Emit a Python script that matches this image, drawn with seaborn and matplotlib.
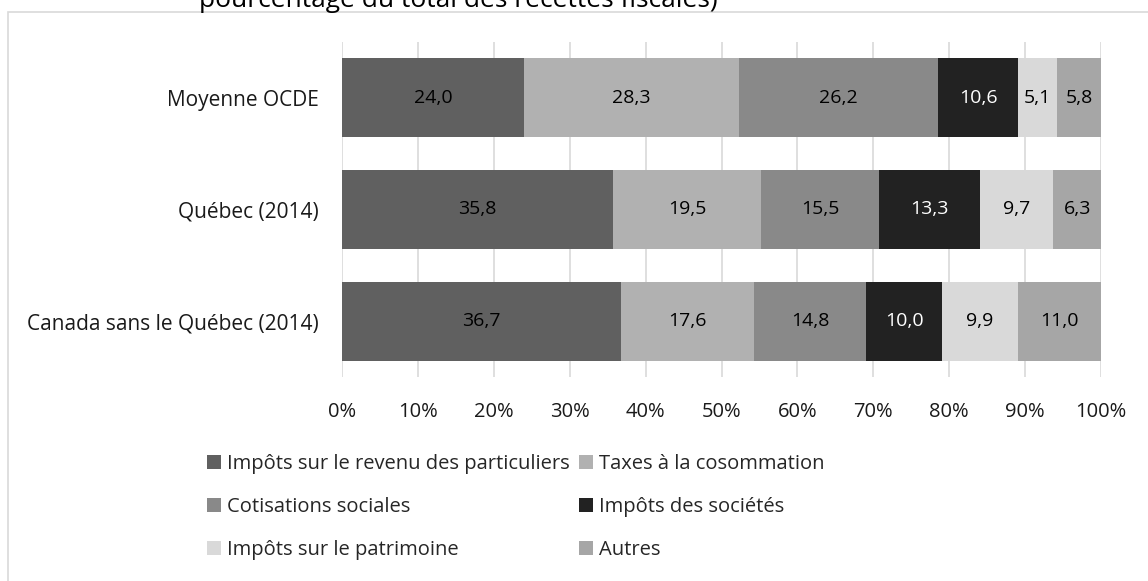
import matplotlib
matplotlib.use("Agg")
import matplotlib.pyplot as plt
import seaborn as sns
import pandas as pd
import numpy as np
from matplotlib.patches import Rectangle, Patch
from matplotlib.ticker import FuncFormatter

categories = ["Moyenne OCDE", "Québec (2014)", "Canada sans le Québec (2014)"]
series = ["Impôts sur le revenu des particuliers", "Taxes à la cosommation",
          "Cotisations sociales", "Impôts des sociétés",
          "Impôts sur le patrimoine", "Autres"]
revenu = [24.0, 35.8, 36.7]
consommation = [28.3, 19.5, 17.6]
cotisations = [26.2, 15.5, 14.8]
societes = [10.6, 13.3, 10.0]
patrimoine = [5.1, 9.7, 9.9]
autres = [5.8, 6.3, 11.0]
colors = ["#606060", "#b1b1b1", "#898989", "#222222", "#d9d9d9", "#a6a6a6"]
label_colors = ["black", "black", "black", "white", "black", "black"]

values = [revenu, consommation, cotisations, societes, patrimoine, autres]
sns.set_theme(style="white")
plt.rcParams['font.family'] = ['Open Sans', 'DejaVu Sans']

fig = plt.figure(figsize=(11.48, 5.81), dpi=100)
ax = fig.add_axes([342/1148, 1-377/581, (1101-342)/1148, (377-42)/581])

arr = np.array(values)
totals = arr.sum(axis=0)
pct = arr / totals * 100
cum = np.cumsum(pct, axis=0)

for i in range(len(series)-1, -1, -1):
    df = pd.DataFrame({"cat": categories, "val": cum[i]})
    sns.barplot(data=df, x="val", y="cat", orient="h", color=colors[i],
                width=0.71, ax=ax, saturation=1, zorder=2, linewidth=0)

for i in range(len(series)):
    for j in range(len(categories)):
        mid = cum[i][j] - pct[i][j]/2
        ax.text(mid, j, f"{values[i][j]:.1f}".replace(".", ","), ha="center", va="center",
                fontsize=14, color=label_colors[i], zorder=3)

ax.set_xlim(0, 100)
ax.set_ylim(2.5, -0.5)
ax.set_xticks(np.arange(0, 101, 10))
ax.xaxis.set_major_formatter(FuncFormatter(lambda v, p: f"{int(v)}%"))
ax.grid(axis="x", color="#d9d9d9", linewidth=1.2, zorder=0)
ax.set_axisbelow(True)
for s in ax.spines.values():
    s.set_visible(False)
ax.set_xlabel("")
ax.set_ylabel("")
ax.tick_params(axis="both", length=0, labelsize=14.5, colors="#1a1a1a")
ax.tick_params(axis="x", pad=18)
ax.tick_params(axis="y", pad=17)
for t in ax.get_yticklabels():
    t.set_fontsize(15)

# frame
fig.patches.append(Rectangle((8/1148, -0.01), 1.02, 1-12/581+0.01, transform=fig.transFigure,
                             fill=False, edgecolor="#d9d9d9", linewidth=1.2))
fig.text(199/1148, 1-7/581, "pourcentage du total des recettes fiscales)", fontsize=19,
         ha="left", va="baseline", color="black")

handles = [Patch(facecolor=c, edgecolor="none") for c in colors]
order = [0, 2, 4, 1, 3, 5]
fig.legend([handles[k] for k in order], [series[k] for k in order], loc="center left",
           bbox_to_anchor=(207/1148, 1-507/581), ncol=2, frameon=False,
           fontsize=14.5, handlelength=0.7, handleheight=0.7, handletextpad=0.3,
           columnspacing=0.45, labelspacing=1.15, borderaxespad=0, borderpad=0)

fig.savefig("out.png", dpi=100)
